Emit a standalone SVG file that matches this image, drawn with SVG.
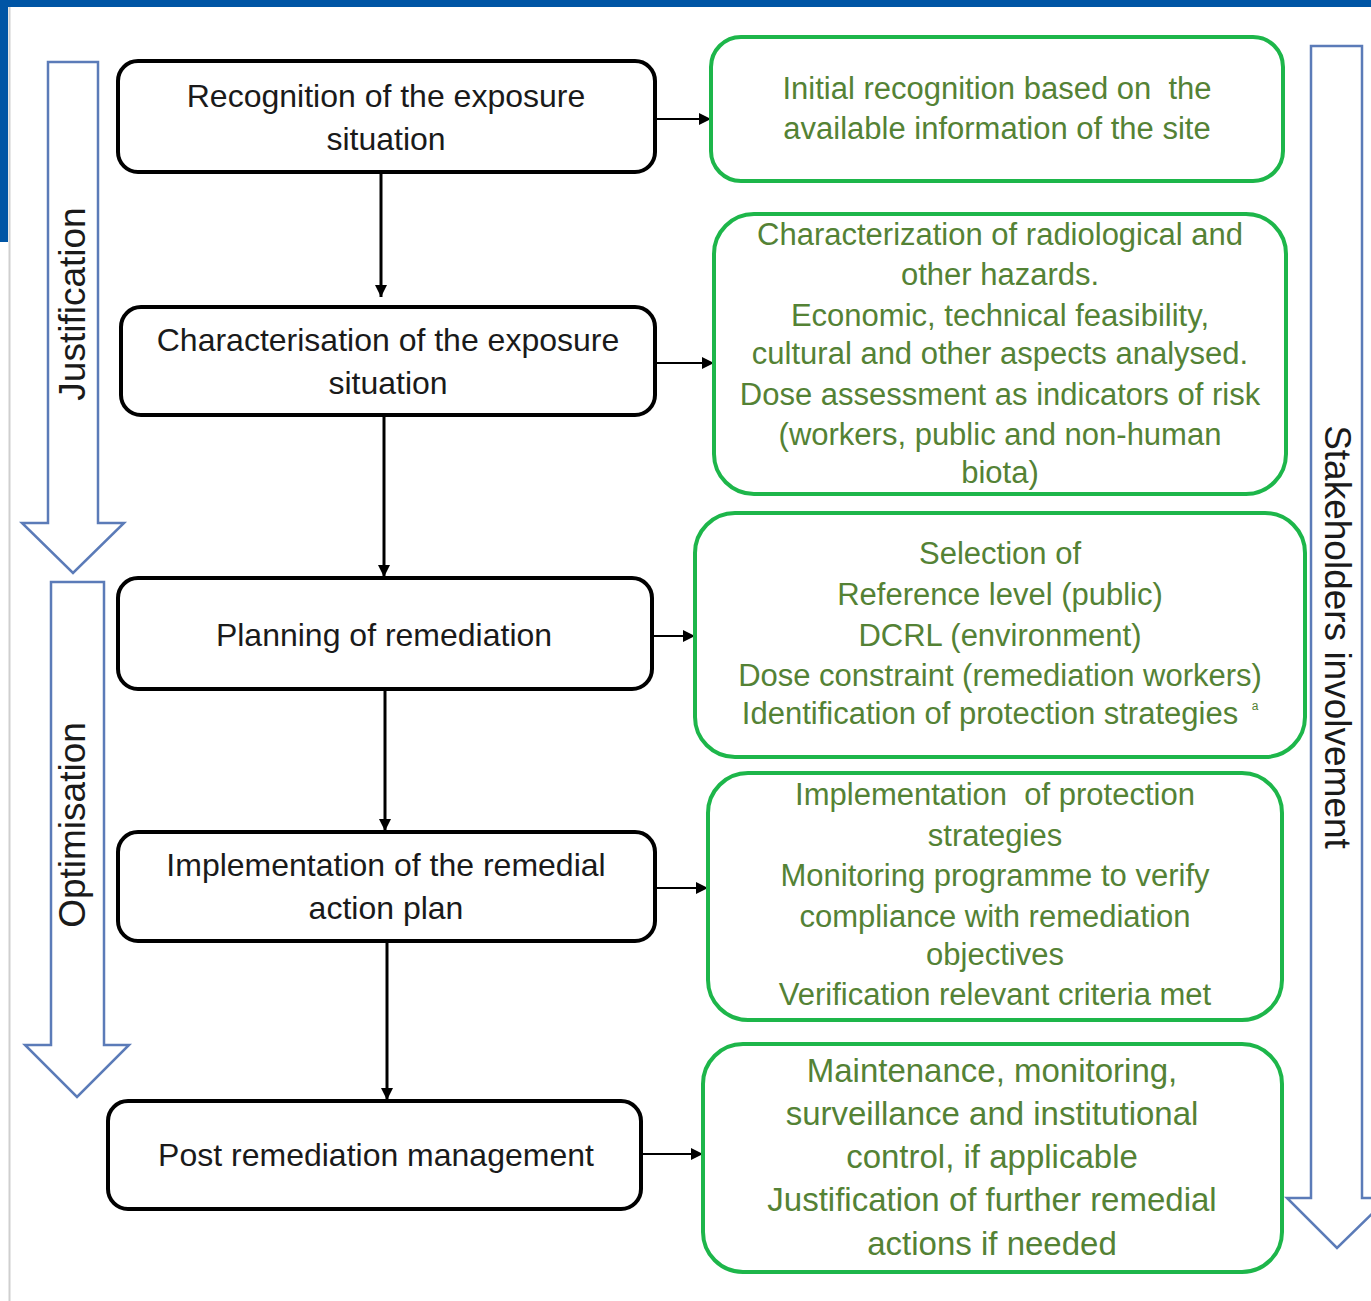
<svg xmlns="http://www.w3.org/2000/svg" width="1371" height="1301" viewBox="0 0 1371 1301">
<defs>
<style>
.bk{fill:#fff;stroke:#000;stroke-width:4}
.gb{fill:#fff;stroke:#1db64a;stroke-width:4}
.bt{font-family:"Liberation Sans",Arial,sans-serif;font-size:32px;fill:#1a1a1a;text-anchor:middle}
.gt{font-family:"Liberation Sans",Arial,sans-serif;font-size:31px;fill:#548235;text-anchor:middle}
.gt5{font-size:33px}
.side{fill:#fff;stroke:#5b7bb8;stroke-width:2.5}
.st{font-family:"Liberation Sans",Arial,sans-serif;font-size:37px;fill:#1a1a1a;text-anchor:middle}
.cn{stroke:#000;stroke-width:3;fill:none}
.cnh{stroke:#000;stroke-width:2;fill:none}
</style>
<marker id="ah" viewBox="0 0 10 10" refX="10" refY="5" markerWidth="4" markerHeight="4" orient="auto" markerUnits="strokeWidth"><path d="M0,0 L10,5 L0,10 z" fill="#000"/></marker>
<marker id="ah2" viewBox="0 0 10 10" refX="10" refY="5" markerWidth="6" markerHeight="6" orient="auto" markerUnits="strokeWidth"><path d="M0,0 L10,5 L0,10 z" fill="#000"/></marker>
</defs>
<rect x="0" y="0" width="1371" height="1301" fill="#fff"/>
<rect x="0" y="0" width="1371" height="7" fill="#0055a5"/>
<rect x="0" y="0" width="8" height="242" fill="#0055a5"/>
<line x1="9.5" y1="7" x2="9.5" y2="1301" stroke="#cfcfcf" stroke-width="2"/>

<g id="justification">
<path class="side" d="M48,62 H98 V523 H124 L73,573 L22,523 H48 Z"/>
<text class="st" transform="translate(85,304) rotate(-90)">Justification</text>
</g>
<g id="optimisation">
<path class="side" d="M51,582 H104 V1045 H129 L77,1097 L25,1045 H51 Z"/>
<text class="st" transform="translate(85,825) rotate(-90)">Optimisation</text>
</g>
<g id="stakeholders">
<path class="side" d="M1311,46 H1362 V1198 H1388 L1337,1248 L1287,1198 H1311 Z"/>
<text class="st" transform="translate(1325,637) rotate(90)">Stakeholders involvement</text>
</g>

<g id="connectors">
<line class="cn" x1="381" y1="172" x2="381" y2="297" marker-end="url(#ah)"/>
<line class="cn" x1="384" y1="415" x2="384" y2="577" marker-end="url(#ah)"/>
<line class="cn" x1="385" y1="689" x2="385" y2="831" marker-end="url(#ah)"/>
<line class="cn" x1="387" y1="941" x2="387" y2="1100" marker-end="url(#ah)"/>
<line class="cnh" x1="655" y1="119" x2="711" y2="119" marker-end="url(#ah2)"/>
<line class="cnh" x1="655" y1="363" x2="714" y2="363" marker-end="url(#ah2)"/>
<line class="cnh" x1="652" y1="636" x2="695" y2="636" marker-end="url(#ah2)"/>
<line class="cnh" x1="655" y1="888" x2="708" y2="888" marker-end="url(#ah2)"/>
<line class="cnh" x1="641" y1="1154" x2="703" y2="1154" marker-end="url(#ah2)"/>
</g>

<g id="step1">
<rect class="bk" x="118" y="61" width="537" height="111" rx="20"/>
<text class="bt" x="386" y="107">Recognition of the exposure</text>
<text class="bt" x="386" y="150">situation</text>
</g>
<g id="step2">
<rect class="bk" x="121" y="307" width="534" height="108" rx="20"/>
<text class="bt" x="388" y="351">Characterisation of the exposure</text>
<text class="bt" x="388" y="394">situation</text>
</g>
<g id="step3">
<rect class="bk" x="118" y="578" width="534" height="111" rx="20"/>
<text class="bt" x="384" y="646">Planning of remediation</text>
</g>
<g id="step4">
<rect class="bk" x="118" y="832" width="537" height="109" rx="20"/>
<text class="bt" x="386" y="876">Implementation of the remedial</text>
<text class="bt" x="386" y="919">action plan</text>
</g>
<g id="step5">
<rect class="bk" x="108" y="1101" width="533" height="108" rx="20"/>
<text class="bt" x="376" y="1166">Post remediation management</text>
</g>

<g id="detail1">
<rect class="gb" x="711" y="37" width="572" height="144" rx="30"/>
<text class="gt" x="997" y="99" xml:space="preserve">Initial recognition based on  the</text>
<text class="gt" x="997" y="139">available information of the site</text>
</g>
<g id="detail2">
<rect class="gb" x="714" y="214" width="572" height="280" rx="40"/>
<text class="gt" x="1000" y="245">Characterization of radiological and</text>
<text class="gt" x="1000" y="285">other hazards.</text>
<text class="gt" x="1000" y="326">Economic, technical feasibility,</text>
<text class="gt" x="1000" y="364">cultural and other aspects analysed.</text>
<text class="gt" x="1000" y="405">Dose assessment as indicators of risk</text>
<text class="gt" x="1000" y="445">(workers, public and non-human</text>
<text class="gt" x="1000" y="483">biota)</text>
</g>
<g id="detail3">
<rect class="gb" x="695" y="513" width="610" height="244" rx="40"/>
<text class="gt" x="1000" y="564">Selection of</text>
<text class="gt" x="1000" y="605">Reference level (public)</text>
<text class="gt" x="1000" y="646">DCRL (environment)</text>
<text class="gt" x="1000" y="686">Dose constraint (remediation workers)</text>
<text class="gt" x="990" y="724">Identification of protection strategies</text>
<text class="gt" x="1255" y="710" style="font-size:12px">a</text>
</g>
<g id="detail4">
<rect class="gb" x="708" y="773" width="574" height="247" rx="40"/>
<text class="gt" x="995" y="805" xml:space="preserve">Implementation  of protection</text>
<text class="gt" x="995" y="846">strategies</text>
<text class="gt" x="995" y="886">Monitoring programme to verify</text>
<text class="gt" x="995" y="927">compliance with remediation</text>
<text class="gt" x="995" y="965">objectives</text>
<text class="gt" x="995" y="1005">Verification relevant criteria met</text>
</g>
<g id="detail5">
<rect class="gb" x="703" y="1044" width="579" height="228" rx="40"/>
<text class="gt gt5" x="992" y="1082">Maintenance, monitoring,</text>
<text class="gt gt5" x="992" y="1125">surveillance and institutional</text>
<text class="gt gt5" x="992" y="1168">control, if applicable</text>
<text class="gt gt5" x="992" y="1211">Justification of further remedial</text>
<text class="gt gt5" x="992" y="1255">actions if needed</text>
</g>
</svg>
